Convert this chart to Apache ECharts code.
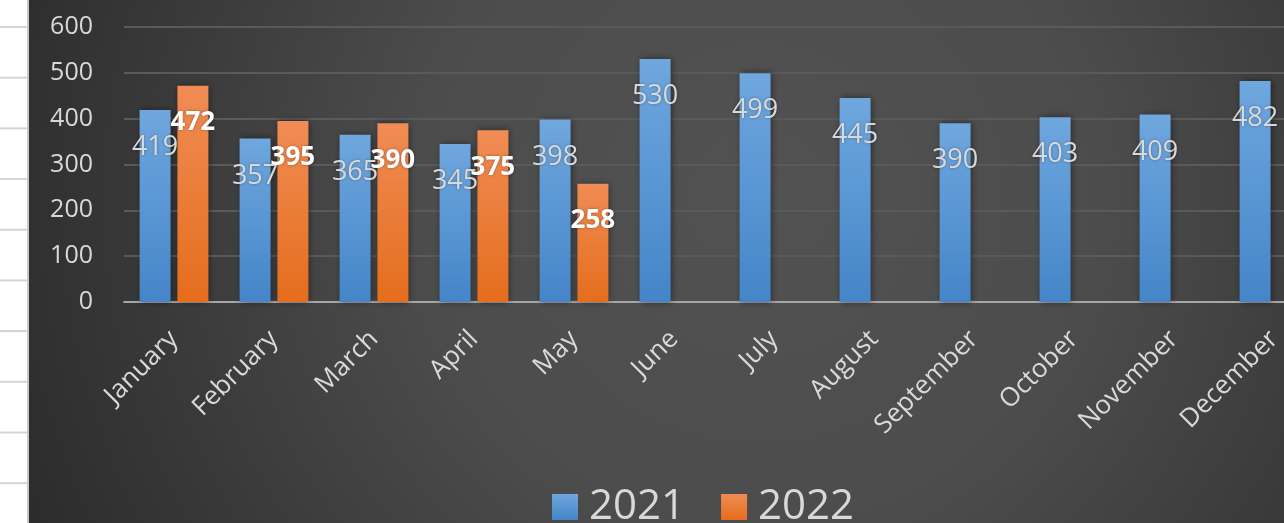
<!DOCTYPE html>
<html>
<head>
<meta charset="utf-8">
<script src="https://cdn.jsdelivr.net/npm/echarts@6/dist/echarts.min.js"></script>
<style>
  html, body { margin: 0; padding: 0; width: 1284px; height: 523px; overflow: hidden; background: #fff; position: relative; }
  .sheet {
    position: absolute; left: 0; top: 0; width: 27px; height: 523px;
    background-color: #fff;
    background-image: linear-gradient(#d4d4d4 0, #d4d4d4 2px, transparent 2px);
    background-size: 100% 50.7px;
    background-position: 0 26px;
    border-right: 2px solid #c8c8c8;
  }
  .chart { position: absolute; left: 29px; top: 0; width: 1300px; height: 523px; }
</style>
</head>
<body>
<div class="sheet"></div>
<div class="chart"></div>
<script>
// 数据
var months = ['January', 'February', 'March', 'April', 'May', 'June',
  'July', 'August', 'September', 'October', 'November', 'December'];
var sales2021 = [419, 357, 365, 345, 398, 530, 499, 445, 390, 403, 409, 482];
var sales2022 = [472, 395, 390, 375, 258, null, null, null, null, null, null, null];
var yTicks = [0, 100, 200, 300, 400, 500, 600];

function barBar(){
    //1实例化对象
    var myChart = echarts.init(document.querySelector('.chart'));
    var font = '"Open Sans", "Noto Sans", sans-serif';
    var blueFill = new echarts.graphic.LinearGradient(0, 0, 0, 1, [
        { offset: 0, color: '#6fa7de' },
        { offset: 1, color: '#4485c8' }
    ]);
    var orangeFill = new echarts.graphic.LinearGradient(0, 0, 0, 1, [
        { offset: 0, color: '#f08c55' },
        { offset: 1, color: '#e56d1c' }
    ]);
    //2指定配置项和数据
    var option = {
        animation: false,
        // 背景: 径向渐变 (画布坐标)
        backgroundColor: new echarts.graphic.RadialGradient(731, 200, 850, [
            { offset: 0, color: '#525252' },
            { offset: 0.4, color: '#4c4c4c' },
            { offset: 1, color: '#282828' }
        ], true),
        textStyle: { fontFamily: font },
        grid: { left: 95, top: 27, width: 1200, height: 275 },
        legend: {
            top: 481,
            left: 518,
            itemWidth: 26,
            itemHeight: 26,
            itemGap: 36,
            icon: 'rect',
            textStyle: { color: '#d9d9d9', fontSize: 42, fontFamily: font, padding: [0, 0, 0, 6] },
            data: ['2021', '2022']
        },
        xAxis: {
            type: 'category',
            data: months,
            axisLine: { show: true, lineStyle: { color: '#a6a6a6', width: 2 } },
            axisTick: { show: false },
            axisLabel: {
                interval: 0,
                rotate: 45,
                margin: 33,
                color: '#d9d9d9',
                fontSize: 26,
                fontFamily: font
            }
        },
        yAxis: {
            type: 'value',
            min: yTicks[0],
            max: yTicks[yTicks.length - 1],
            interval: 100,
            axisLine: { show: false },
            axisTick: { show: false },
            axisLabel: { margin: 31, color: '#d9d9d9', fontSize: 25, fontFamily: font },
            splitLine: { lineStyle: { color: '#5a5a5a', width: 2 } }
        },
        series: [
            {
                name: '2021',
                type: 'bar',
                data: sales2021,
                barWidth: 31,
                barGap: '22%',
                itemStyle: {
                    color: blueFill,
                    shadowBlur: 7,
                    shadowColor: 'rgba(0,0,0,0.5)',
                    shadowOffsetX: 1
                },
                label: {
                    show: true,
                    position: 'insideTop',
                    distance: 24,
                    color: '#d9d9d9',
                    fontSize: 27,
                    fontFamily: font,
                    textShadowColor: 'rgba(0,0,0,0.35)',
                    textShadowBlur: 3
                }
            },
            {
                name: '2022',
                type: 'bar',
                data: sales2022,
                barWidth: 31,
                itemStyle: {
                    color: orangeFill,
                    shadowBlur: 7,
                    shadowColor: 'rgba(0,0,0,0.5)',
                    shadowOffsetX: 1
                },
                label: {
                    show: true,
                    position: 'insideTop',
                    distance: 24,
                    color: '#ffffff',
                    fontWeight: 'bold',
                    fontSize: 26,
                    fontFamily: font,
                    textShadowColor: 'rgba(0,0,0,0.35)',
                    textShadowBlur: 3
                }
            }
        ]
    };
    myChart.setOption(option);
    window.addEventListener("resize", function () {
      myChart.resize();
    });
}
barBar();
</script>
</body>
</html>
